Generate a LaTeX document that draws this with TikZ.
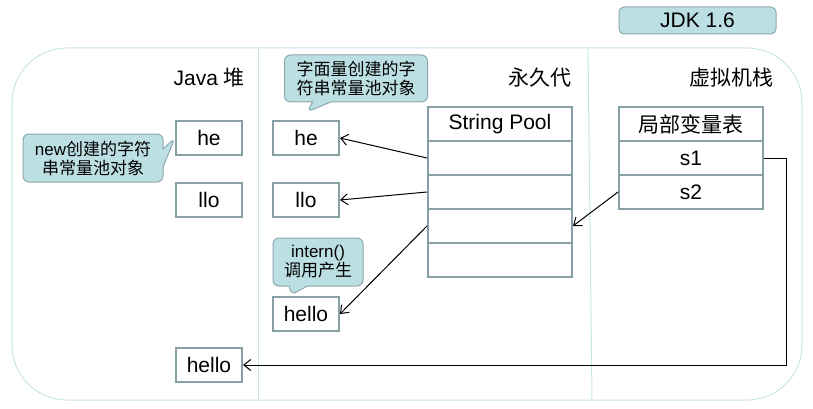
\documentclass[tikz,border=0pt]{standalone}
\usepackage{fontspec}
\setmainfont{Liberation Sans}
\newfontfamily\cjk{Noto Sans CJK SC}
\usepackage{xcolor}
\usepackage{tikz}
\usetikzlibrary{calc, arrows.meta, shapes.callouts}

\definecolor{frameline}{RGB}{200,228,232}
\definecolor{boxline}{RGB}{134,160,164}
\definecolor{notefill}{RGB}{188,223,227}
\definecolor{noteline}{RGB}{140,168,172}

\begin{document}
\begin{tikzpicture}[x=1pt, y=-1pt, >={Straight Barb[length=7pt,width=11pt]}, font=\fontsize{21}{25}\selectfont]
		\tikzstyle{cell} = [draw=boxline, line width=2pt, rectangle, minimum width=66pt, minimum height=34pt, inner sep=0pt]
		\tikzstyle{row} = [cell, minimum width=144pt]
		\tikzstyle{note} = [rectangle callout, draw=noteline, fill=notefill, line width=1pt, rounded corners=6pt, align=center, inner sep=0pt, callout pointer width=18pt, font=\fontsize{17}{19}\selectfont]
		\tikzstyle{title} = [anchor=east, inner sep=0pt]
		\tikzstyle{arrow} = [line width=1pt, ->]

		\useasboundingbox (0, 0) rectangle (813, 409);

		% frame and columns
		\draw[frameline, line width=1pt, rounded corners=55pt] (12, 48) rectangle (802, 400);
		\draw[frameline, line width=1pt] (258, 48) -- (258, 400);
		\draw[frameline, line width=1pt] (588, 48) -- (592, 400);

		\node[draw=noteline, fill=notefill, line width=1pt, rounded corners=5pt, minimum width=157pt, minimum height=27pt, inner sep=0pt]	at (697.5, 20.5)	(jdk)	{JDK 1.6};

		\node[title]	at (245, 78)	(heap)	{Java {\cjk 堆}};
		\node[title]	at (572, 78)	(perm)	{\cjk 永久代};
		\node[title]	at (774, 78)	(stack)	{\cjk 虚拟机栈};

		% heap
		\node[cell]	at (209, 138)	(hhe)		{he};
		\node[cell]	at (209, 200)	(hllo)		{llo};
		\node[cell]	at (209, 365)	(hhello)	{hello};

		% perm gen
		\node[cell]	at (306, 138)	(phe)		{he};
		\node[cell]	at (306, 200)	(pllo)		{llo};
		\node[cell]	at (306, 314)	(phello)	{hello};

		% string pool
		\node[row]	at (500, 124)	(p0)	{String Pool};
		\node[row]	at (500, 158)	(p1)	{};
		\node[row]	at (500, 192)	(p2)	{};
		\node[row]	at (500, 226)	(p3)	{};
		\node[row]	at (500, 260)	(p4)	{};

		% local variables
		\node[row]	at (691, 124)	(l0)	{\cjk 局部变量表};
		\node[row]	at (691, 158)	(l1)	{s1};
		\node[row]	at (691, 192)	(l2)	{s2};

		% notes
		\node[note, minimum width=143pt, minimum height=47pt, callout absolute pointer={($(phe.north west)+(35,-8)$)}]	at (356, 78.5)	(lit)	{{\cjk 字面量创建的字}\\{\cjk 符串常量池对象}};
		\node[note, minimum width=140pt, minimum height=48pt, callout absolute pointer={(hhe.west)}]	at (93, 158)	(new)	{{new\cjk 创建的字符}\\{\cjk 串常量池对象}};
		\node[note, minimum width=90pt, minimum height=48pt, callout absolute pointer={($(phello.north west)+(19,-1)$)}]	at (318, 262)	(intern)	{intern()\\{\cjk 调用产生}};

		\draw [arrow] (p1.west) -- (phe.east);
		\draw [arrow] (p2.west) -- (pllo.east);
		\draw [arrow] (p3.west) -- (phello.east);
		\draw [arrow] (l2.west) -- (p3.east);
		\coordinate (turn) at (786, 365);
		\draw [arrow] (l1.east) -| (turn) -- (hhello.east);
	\end{tikzpicture}
\end{document}
